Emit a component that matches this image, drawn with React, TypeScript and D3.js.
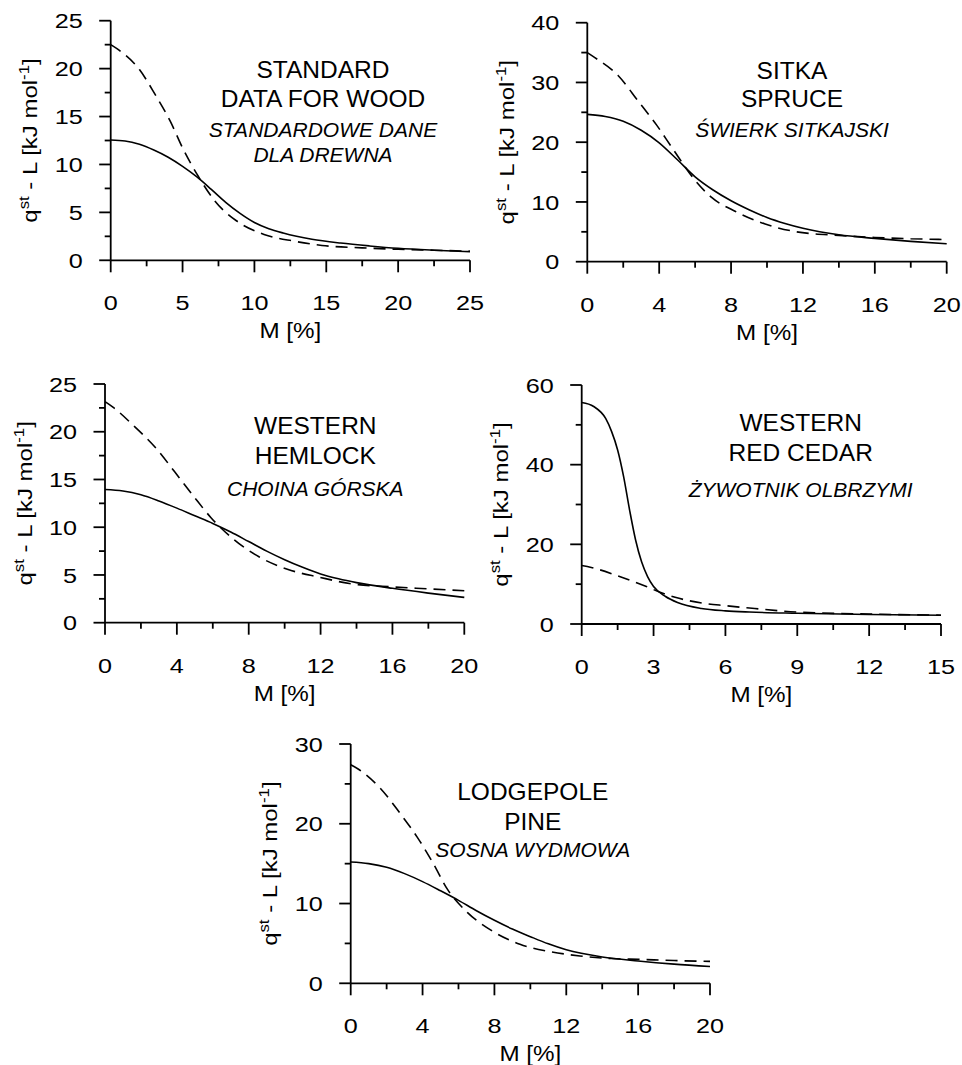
import React from 'react';
import * as d3 from 'd3';

// curves: M [%] vs qst - L [kJ/mol]
const standardSolidM = [0, 1, 2, 3, 4, 5, 6, 7, 8, 9, 10, 11, 12, 14, 16, 18, 20, 22.5, 25];
const standardSolidQ = [12.55, 12.45, 12.1, 11.5, 10.75, 9.8, 8.7, 7.4, 6.05, 4.9, 3.95, 3.3, 2.85, 2.2, 1.8, 1.5, 1.25, 1.05, 0.9];
const standardDashM = [0, 0.46, 2.0, 3.13, 4.15, 5.01, 6.08, 7.24, 8.77, 10.67, 12.76, 14.7, 17.5, 20, 22.5, 25];
const standardDashQ = [22.5, 22.05, 19.9, 17.2, 14.5, 11.7, 8.8, 6.2, 4.1, 2.7, 2.0, 1.55, 1.3, 1.15, 1.05, 0.95];

const sitkaSolidM = [0, 1, 2, 3, 4, 5, 6, 7, 8, 9, 10, 11, 12, 14, 16, 18, 20];
const sitkaSolidQ = [24.65, 24.3, 23.5, 22.0, 19.9, 17.1, 14.2, 12.0, 10.2, 8.7, 7.4, 6.4, 5.6, 4.5, 3.9, 3.4, 3.0];
const sitkaDashM = [0, 0.4, 1.7, 2.85, 3.85, 4.8, 6.0, 6.9, 8.25, 9.9, 11.65, 14, 16, 18, 20];
const sitkaDashQ = [35.0, 34.2, 31.2, 26.8, 22.9, 18.7, 13.6, 10.8, 8.4, 6.3, 5.0, 4.4, 4.05, 3.85, 3.7];

const hemlockSolidM = [0, 1, 2, 3, 4, 5, 6, 7, 8, 9, 10, 11, 12, 13, 14, 16, 18, 20];
const hemlockSolidQ = [13.95, 13.8, 13.4, 12.75, 12.0, 11.2, 10.4, 9.5, 8.5, 7.5, 6.6, 5.8, 5.1, 4.6, 4.2, 3.6, 3.1, 2.65];
const hemlockDashM = [0, 0.46, 1.61, 2.78, 3.9, 4.95, 5.9, 7.18, 8.57, 10.15, 11.97, 13.6, 16, 18, 20];
const hemlockDashQ = [23.15, 22.55, 20.6, 18.4, 15.75, 13.2, 11.0, 8.7, 6.9, 5.6, 4.75, 4.1, 3.75, 3.55, 3.35];

const cedarSolidM = [0, 0.5, 1, 1.25, 1.5, 1.75, 2, 2.25, 2.5, 2.75, 3, 3.5, 4, 5, 6, 7, 9, 12, 15];
const cedarSolidQ = [55.6, 54.6, 51.6, 48.3, 43.7, 37, 28.6, 21.1, 15.6, 11.9, 9.4, 6.9, 5.4, 3.9, 3.3, 3.0, 2.7, 2.4, 2.2];
const cedarDashM = [0, 0.4, 1.5, 2.7, 3.3, 3.9, 5.1, 6, 7, 9, 12, 15];
const cedarDashQ = [14.7, 14.2, 12.1, 9.4, 7.9, 6.7, 5.2, 4.6, 4.0, 3.0, 2.5, 2.2];

const lodgepoleSolidM = [0, 1, 2, 3, 4, 5, 6, 7, 8, 9, 10, 11, 12, 14, 16, 18, 20];
const lodgepoleSolidQ = [15.2, 15.0, 14.55, 13.75, 12.75, 11.6, 10.4, 9.1, 7.9, 6.8, 5.85, 4.95, 4.2, 3.3, 2.8, 2.4, 2.1];
const lodgepoleDashM = [0, 0.39, 1.67, 2.75, 3.71, 4.6, 5.38, 6.49, 7.85, 9.42, 11.1, 12.76, 14.5, 16, 18, 20];
const lodgepoleDashQ = [27.4, 26.9, 24.4, 21.3, 18.3, 15.0, 11.8, 8.9, 6.6, 4.9, 3.97, 3.43, 3.1, 3.0, 2.85, 2.75];

// tick values
const xTicks25 = [0, 5, 10, 15, 20, 25];
const xTicks20 = [0, 4, 8, 12, 16, 20];
const xTicks15 = [0, 3, 6, 9, 12, 15];
const yTicks25 = [0, 5, 10, 15, 20, 25];
const yTicks40 = [0, 10, 20, 30, 40];
const yTicks60 = [0, 20, 40, 60];
const yTicks30 = [0, 10, 20, 30];

// titles (english, polish)
const standardTitle = ['STANDARD', 'DATA FOR WOOD'];
const standardSub = ['STANDARDOWE DANE', 'DLA DREWNA'];
const sitkaTitle = ['SITKA', 'SPRUCE'];
const sitkaSub = ['ŚWIERK SITKAJSKI'];
const hemlockTitle = ['WESTERN', 'HEMLOCK'];
const hemlockSub = ['CHOINA GÓRSKA'];
const cedarTitle = ['WESTERN', 'RED CEDAR'];
const cedarSub = ['ŻYWOTNIK OLBRZYMI'];
const lodgepoleTitle = ['LODGEPOLE', 'PINE'];
const lodgepoleSub = ['SOSNA WYDMOWA'];

const FONT = 'Arial, "Liberation Sans", Helvetica, sans-serif';

const zip = (m: number[], q: number[]) => m.map((v, i) => [v, q[i]] as [number, number]);

const Panel = ({ box, xTicks, yTicks, solid, dashed, title, sub }: any) => {
  const x = d3.scaleLinear().domain([xTicks[0], xTicks[xTicks.length - 1]]).range([box.x0, box.x1]);
  const y = d3.scaleLinear().domain([yTicks[0], yTicks[yTicks.length - 1]]).range([box.yBot, box.yTop]);
  const line = d3.line<[number, number]>().x(d => x(d[0])).y(d => y(d[1])).curve(d3.curveMonotoneX);
  const xMinor = d3.pairs(xTicks).map(([a, b]: any) => (a + b) / 2);
  const yMinor = d3.pairs(yTicks).map(([a, b]: any) => (a + b) / 2);
  const midY = (box.yTop + box.yBot) / 2;
  const midX = (box.x0 + box.x1) / 2;

  return (
    <g fontFamily={FONT} fill="#000">
      <path d={line(solid) || ''} fill="none" stroke="#000" strokeWidth={1.6} />
      <path d={line(dashed) || ''} fill="none" stroke="#000" strokeWidth={1.6} strokeDasharray="12,7" />

      <line x1={box.x0} x2={box.x1} y1={box.yBot} y2={box.yBot} stroke="#000" strokeWidth={1.8} />
      <line x1={box.x0} x2={box.x0} y1={box.yTop} y2={box.yBot} stroke="#000" strokeWidth={1.8} />
      {xTicks.map((t: number) => (
        <g key={'x' + t}>
          <line x1={x(t)} x2={x(t)} y1={box.yBot} y2={box.yBot + 12} stroke="#000" strokeWidth={1.8} />
          <text transform={`translate(${x(t)},${box.yBot + 50}) scale(1.2,1)`} textAnchor="middle" fontSize={21}>{t}</text>
        </g>
      ))}
      {xMinor.map((t: number) => (
        <line key={'xm' + t} x1={x(t)} x2={x(t)} y1={box.yBot} y2={box.yBot + 6} stroke="#000" strokeWidth={1.8} />
      ))}
      {yTicks.map((t: number) => (
        <g key={'y' + t}>
          <line x1={box.x0 - 11.5} x2={box.x0} y1={y(t)} y2={y(t)} stroke="#000" strokeWidth={1.8} />
          <text transform={`translate(${box.x0 - 28},${y(t)}) scale(1.2,1)`} textAnchor="end" dy="0.36em" fontSize={21}>{t}</text>
        </g>
      ))}
      {yMinor.map((t: number) => (
        <line key={'ym' + t} x1={box.x0 - 6} x2={box.x0} y1={y(t)} y2={y(t)} stroke="#000" strokeWidth={1.8} />
      ))}

      <text transform={`translate(${midX},${box.yBot + 78}) scale(1.1,1)`} textAnchor="middle" fontSize={22}>M [%]</text>
      <text transform={`translate(${box.x0 - 73.4},${midY}) rotate(-90) scale(1.2,1)`} textAnchor="middle" fontSize={20}>
        q<tspan fontSize={14} dy={-8}>st</tspan>
        <tspan dy={8}> - L [kJ mol</tspan>
        <tspan fontSize={14} dy={-8}>-1</tspan>
        <tspan dy={8}>]</tspan>
      </text>

      {title.map((s: string, i: number) => (
        <text key={'t' + i} x={box.tx} y={box.yTop + box.tLines[i]} textAnchor="middle" fontSize={24.5}>{s}</text>
      ))}
      {sub.map((s: string, i: number) => (
        <text key={'s' + i} x={box.tx} y={box.yTop + box.tLines[title.length + i]} textAnchor="middle" fontSize={21} fontStyle="italic">{s}</text>
      ))}
    </g>
  );
};

const App = () => {
  return (
    <svg width={962} height={1065} style={{ position: 'absolute', left: 0, top: 0, background: '#fff' }}>
      <Panel
        box={{ x0: 110.7, x1: 470, yTop: 20.7, yBot: 260.3, tx: 323, tLines: [57.5, 86.5, 116, 141] }}
        xTicks={xTicks25} yTicks={yTicks25}
        solid={zip(standardSolidM, standardSolidQ)} dashed={zip(standardDashM, standardDashQ)}
        title={standardTitle} sub={standardSub}
      />
      <Panel
        box={{ x0: 587.3, x1: 946.7, yTop: 22.7, yBot: 261.7, tx: 792, tLines: [56.6, 84.6, 114] }}
        xTicks={xTicks20} yTicks={yTicks40}
        solid={zip(sitkaSolidM, sitkaSolidQ)} dashed={zip(sitkaDashM, sitkaDashQ)}
        title={sitkaTitle} sub={sitkaSub}
      />
      <Panel
        box={{ x0: 105, x1: 464.3, yTop: 384, yBot: 622.7, tx: 315.3, tLines: [50, 80, 112] }}
        xTicks={xTicks20} yTicks={yTicks25}
        solid={zip(hemlockSolidM, hemlockSolidQ)} dashed={zip(hemlockDashM, hemlockDashQ)}
        title={hemlockTitle} sub={hemlockSub}
      />
      <Panel
        box={{ x0: 581.7, x1: 941, yTop: 385, yBot: 624, tx: 800.7, tLines: [46, 75.7, 112.3] }}
        xTicks={xTicks15} yTicks={yTicks60}
        solid={zip(cedarSolidM, cedarSolidQ)} dashed={zip(cedarDashM, cedarDashQ)}
        title={cedarTitle} sub={cedarSub}
      />
      <Panel
        box={{ x0: 350.7, x1: 710, yTop: 744, yBot: 983.3, tx: 532.8, tLines: [56, 86, 112.7] }}
        xTicks={xTicks20} yTicks={yTicks30}
        solid={zip(lodgepoleSolidM, lodgepoleSolidQ)} dashed={zip(lodgepoleDashM, lodgepoleDashQ)}
        title={lodgepoleTitle} sub={lodgepoleSub}
      />
    </svg>
  );
};

export default App;
